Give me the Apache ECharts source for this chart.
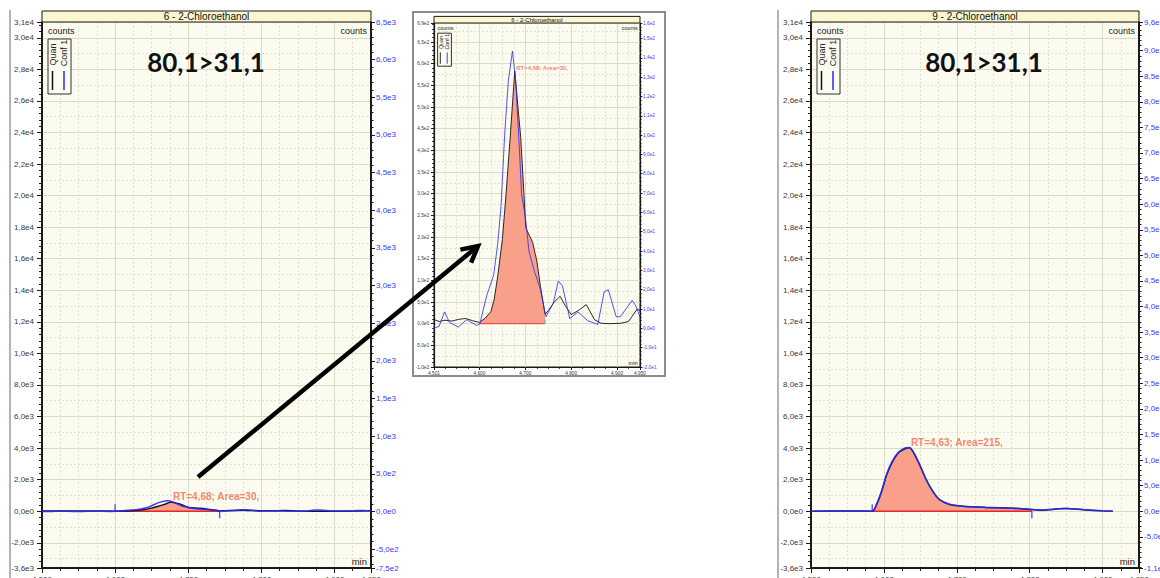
<!DOCTYPE html>
<html>
<head>
<meta charset="utf-8">
<title>2-Chloroethanol chromatograms</title>
<script src="https://cdn.jsdelivr.net/npm/echarts@6.0.0/dist/echarts.min.js"></script>
<style>
html,body{margin:0;padding:0;background:#ffffff;overflow:hidden;}
#chart{width:1160px;height:578px;}
</style>
</head>
<body>
<div id="chart"></div>
<script>
// ===== Data =====
const panel6Title = '6 - 2-Chloroethanol';
const panel9Title = '9 - 2-Chloroethanol';
const transitionText = '80,1>31,1';
const legendNames = ['Quan', 'Conf 1'];
const countsText = 'counts';
const xUnitText = 'min';
const peak6Label = 'RT=4,68; Area=30,';
const peak9Label = 'RT=4,63; Area=215,';

// Sample 6 - quantifier trace (left counts axis)
const quan6Time = [4.500,4.512,4.525,4.540,4.555,4.570,4.585,4.600,4.612,4.625,4.632,4.640,4.650,4.658,4.668,4.677,4.684,4.690,4.697,4.701,4.705,4.716,4.725,4.733,4.743,4.750,4.763,4.776,4.788,4.800,4.815,4.833,4.851,4.865,4.885,4.908,4.925,4.944,4.950];
const quan6Counts = [10,5,8,6,10,12,7,3,12,28,55,110,194,298,444,583,500,430,300,222,212,188,145,86,22,30,50,63,40,21,30,44,9,1,0,1,5,34,30];
// Sample 6 - qualifier trace "Conf 1" (right counts axis)
const conf6Time = [4.500,4.512,4.524,4.535,4.554,4.572,4.594,4.601,4.616,4.631,4.640,4.647,4.655,4.663,4.672,4.679,4.686,4.692,4.700,4.708,4.718,4.733,4.745,4.761,4.772,4.781,4.797,4.815,4.836,4.858,4.872,4.881,4.898,4.907,4.933,4.940,4.950];
const conf6Counts = [0,1,8.5,3,0.7,4.5,1.5,2.4,17,27.5,44,63,100,128,143.5,128,98,69,58,40,31,20,6,13,24.5,22,5,8.5,4,2,19,20,6,6,14.5,12,6];
const peak6Window = [4.600, 4.743];

// Sample 9 - quantifier trace
const quan9Time = [4.500,4.550,4.584,4.590,4.597,4.604,4.611,4.620,4.629,4.635,4.641,4.649,4.658,4.667,4.676,4.690,4.705,4.722,4.740,4.758,4.785,4.803,4.816,4.840,4.850,4.875,4.900,4.914];
const quan9Counts = [0,10,0,424,1270,2326,3067,3700,3954,4020,3700,2960,2009,1270,740,424,330,275,240,211,169,106,63,148,169,85,20,0];
// Sample 9 - qualifier trace
const conf9Time = [4.500,4.550,4.584,4.590,4.597,4.604,4.611,4.620,4.629,4.635,4.641,4.649,4.658,4.667,4.676,4.690,4.705,4.722,4.740,4.758,4.785,4.803,4.816,4.840,4.850,4.875,4.900,4.914];
const conf9Counts = [0,3,0,140,400,730,965,1150,1235,1245,1140,905,615,390,230,135,102,85,74,66,53,34,22,46,52,27,7,0];
const peak9Window = [4.584, 4.803];

// Tick values / labels
const timeTicks = [4.5,4.6,4.7,4.8,4.9,4.95];
const insetTimeTicks = [4.501,4.6,4.7,4.8,4.9,4.95];
const quanCountTicks = [-3600,-2000,0,2000,4000,6000,8000,10000,12000,14000,16000,18000,20000,22000,24000,26000,28000,30000,31000];
const conf6CountTicks = [-750,-500,0,500,1000,1500,2000,2500,3000,3500,4000,4500,5000,5500,6000,6500];
const conf9CountTicks = [-1110,-500,0,500,1000,1500,2000,2500,3000,3500,4000,4500,5000,5500,6000,6500,7000,7500,8000,8500,9000,9560];
const insetQuanTicks = [-100,-50,0,50,100,150,200,250,300,350,400,450,500,550,600,650,694];
const insetConfTicks = [-20,-10,0,10,20,30,40,50,60,70,80,90,100,110,120,130,140,150,158];

// ===== Styling =====
const FONT = 'Liberation Sans';
const PLOT_BG = '#fcfbef';
const TITLE_BG = '#fbf6cf';
const GRID_MAJOR = '#dddbc6';
const GRID_MINOR = '#e4e2cf';
const AXIS = '#1a1a1a';
const LABEL = '#3a3a3a';
const BLUE = '#2a2aff';
const BLUE_LABEL = '#3a3af0';
const FILL = '#f9a08b';
const RED = '#e8262a';
const RT_COLOR = '#f2674b';

const fmtSci = v => Math.abs(v) < 1e-9 ? '0,0e0' : v.toExponential(1).replace('.', ',').replace('e+', 'e');
const fmtTime = v => v.toFixed(3).replace('.', ',');
const zip = (a, b) => a.map((t, i) => [t, b[i]]);
function minorOf(min, max, step, majors) {
  const out = [];
  for (let k = Math.ceil(min / step - 1e-9); k * step <= max + 1e-9; k++) {
    const v = Math.round(k * step * 1e6) / 1e6;
    if (!majors.some(m => Math.abs(m - v) < step * 1e-3)) out.push(v);
  }
  return out;
}

const option = { animation: false, grid: [], xAxis: [], yAxis: [], series: [], graphic: [] };

function addPanel(p) {
  const s = p.s, gi = option.grid.length;
  const L = p.left, T = p.top, W = p.width, H = p.height;
  option.grid.push({ left: L, top: T, width: W, height: H, show: true, backgroundColor: PLOT_BG,
    borderColor: AXIS, borderWidth: 1, containLabel: false, outerBoundsMode: 'none' });
  const xi = option.xAxis.length, yi = option.yAxis.length;
  option.xAxis.push({
    gridIndex: gi, type: 'value', min: p.xMin, max: p.xMax, position: 'bottom',
    axisLine: { show: true, onZero: false, lineStyle: { color: AXIS, width: 2 * s } },
    axisTick: { show: true, customValues: p.xTicks, length: 5 * s, lineStyle: { color: AXIS, width: 1 } },
    axisLabel: { show: true, customValues: p.xTicks, formatter: fmtTime, fontSize: 8 * s, fontFamily: FONT, color: LABEL, margin: 7 * s },
    splitLine: { show: true, lineStyle: { color: GRID_MAJOR, width: 1 } }
  }, {
    gridIndex: gi, type: 'value', min: p.xMin, max: p.xMax, position: 'bottom',
    axisLine: { show: false, onZero: false },
    axisTick: { show: true, customValues: minorOf(p.xMin, p.xMax, 0.025, p.xTicks), length: 3 * s, lineStyle: { color: AXIS, width: 1 } },
    axisLabel: { show: false },
    splitLine: { show: true, lineStyle: { color: GRID_MINOR, width: 1, type: [2, 2] } }
  });
  option.yAxis.push({
    gridIndex: gi, type: 'value', min: p.yMin, max: p.yMax, position: 'left',
    axisLine: { show: true, onZero: false, lineStyle: { color: AXIS, width: 2 * s } },
    axisTick: { show: true, customValues: p.yTicks, length: 5 * s, lineStyle: { color: AXIS, width: 1 } },
    axisLabel: { show: true, customValues: p.yTicks, formatter: fmtSci, fontSize: 8 * s, fontFamily: FONT, color: LABEL, margin: 8 * s },
    splitLine: { show: true, lineStyle: { color: GRID_MAJOR, width: 1 } }
  }, {
    gridIndex: gi, type: 'value', min: p.yMin, max: p.yMax, position: 'left',
    axisLine: { show: false, onZero: false },
    axisTick: { show: false, customValues: minorOf(p.yMin, p.yMax, p.yGridStep, p.yTicks) },
    axisLabel: { show: false },
    splitLine: { show: true, lineStyle: { color: GRID_MINOR, width: 1, type: [2, 2] } }
  }, {
    gridIndex: gi, type: 'value', min: p.yMin, max: p.yMax, position: 'left',
    axisLine: { show: false, onZero: false },
    axisTick: { show: true, customValues: minorOf(p.yMin, p.yMax, p.yTickStep, p.yTicks), length: 3 * s, lineStyle: { color: AXIS, width: 1 } },
    axisLabel: { show: false }, splitLine: { show: false }
  }, {
    gridIndex: gi, type: 'value', min: p.y2Min, max: p.y2Max, position: 'right',
    axisLine: { show: true, onZero: false, lineStyle: { color: AXIS, width: 2 * s } },
    axisTick: { show: true, customValues: p.y2Ticks, length: 4 * s, lineStyle: { color: AXIS, width: 1 } },
    axisLabel: { show: true, customValues: p.y2Ticks, formatter: fmtSci, fontSize: 8 * s, fontFamily: FONT, color: BLUE_LABEL, margin: 5 * s },
    splitLine: { show: false }
  }, {
    gridIndex: gi, type: 'value', min: p.y2Min, max: p.y2Max, position: 'right',
    axisLine: { show: false, onZero: false },
    axisTick: { show: true, customValues: minorOf(p.y2Min, p.y2Max, p.y2TickStep, p.y2Ticks), length: 2.5 * s, lineStyle: { color: AXIS, width: 1 } },
    axisLabel: { show: false }, splitLine: { show: false }
  });

  const qPts = zip(p.quanTime, p.quanCounts);
  const cPts = zip(p.confTime, p.confCounts);
  const inWin = qPts.filter(d => d[0] >= p.win[0] - 1e-9 && d[0] <= p.win[1] + 1e-9);
  let apex = qPts[0];
  qPts.forEach(d => { if (d[1] > apex[1]) apex = d; });

  option.series.push(
    { type: 'line', xAxisIndex: xi, yAxisIndex: yi, data: inWin, symbol: 'none', smooth: p.smooth,
      lineStyle: { width: 0, opacity: 0 }, areaStyle: { color: FILL, opacity: 1 }, silent: true, z: 2 },
    { type: 'line', xAxisIndex: xi, yAxisIndex: yi, data: [[p.win[0], 0], [p.win[1], 0]], symbol: 'none',
      lineStyle: { color: RED, width: 1.5 * s }, silent: true, z: 3 },
    { type: 'line', name: legendNames[0], xAxisIndex: xi, yAxisIndex: yi, data: qPts, symbol: 'none', smooth: p.smooth,
      lineStyle: { color: '#151515', width: 1.5 * s }, silent: true, z: 4 },
    { type: 'line', name: legendNames[1], xAxisIndex: xi, yAxisIndex: yi + 3, data: cPts, symbol: 'none', smooth: p.smooth,
      lineStyle: { color: BLUE, width: 1.5 * s, opacity: 0.9 }, silent: true, z: 5 },
    { type: 'scatter', xAxisIndex: xi, yAxisIndex: yi, symbol: 'rect', symbolSize: [1.4, 7 * s], silent: true, z: 6,
      data: p.markers.map(m => ({ value: [p.win[m[0]], 0], symbolOffset: [0, m[1] * 3.5 * s], itemStyle: { color: m[2] } })) },
    { type: 'scatter', xAxisIndex: xi, yAxisIndex: yi, symbolSize: 1, itemStyle: { color: 'transparent' }, silent: true, z: 7,
      data: [apex],
      label: { show: true, formatter: p.rtLabel, position: 'right', distance: 1, offset: [0, -5.5 * s],
        color: RT_COLOR, fontSize: 10 * s, fontWeight: 'bold', fontFamily: FONT } }
  );

  const g = option.graphic;
  g.push(
    { type: 'rect', shape: { x: L, y: T - 11 * s, width: W, height: 11 * s }, style: { fill: TITLE_BG, stroke: AXIS, lineWidth: 1 }, z: 10 },
    { type: 'text', x: L + W / 2, y: T - 5.5 * s, z: 11,
      style: { text: p.title, fill: '#111', fontSize: 10 * s, fontFamily: FONT, align: 'center', verticalAlign: 'middle' } },
    { type: 'text', x: L + 6 * s, y: T + 9 * s, z: 11,
      style: { text: countsText, fill: '#222', fontSize: 9 * s, fontFamily: FONT, align: 'left', verticalAlign: 'middle' } },
    { type: 'text', x: L + W - 4 * s, y: T + 9 * s, z: 11,
      style: { text: countsText, fill: '#222', fontSize: 9 * s, fontFamily: FONT, align: 'right', verticalAlign: 'middle' } },
    { type: 'text', x: L + W - 4 * s, y: T + H - 7 * s, z: 11,
      style: { text: xUnitText, fill: '#222', fontSize: 9.5 * s, fontFamily: FONT, align: 'right', verticalAlign: 'middle' } }
  );
  const bx = L + 6 * s, by = T + 17 * s;
  g.push(
    { type: 'rect', shape: { x: bx, y: by, width: 23 * s, height: 55 * s }, style: { fill: PLOT_BG, stroke: '#333', lineWidth: 1 }, z: 11 },
    { type: 'text', x: bx + 5 * s, y: by + 15.5 * s, rotation: Math.PI / 2, z: 12,
      style: { text: legendNames[0], fill: '#222', fontSize: 9 * s, fontFamily: FONT, align: 'center', verticalAlign: 'middle' } },
    { type: 'text', x: bx + 16 * s, y: by + 14 * s, rotation: Math.PI / 2, z: 12,
      style: { text: legendNames[1], fill: '#222', fontSize: 9 * s, fontFamily: FONT, align: 'center', verticalAlign: 'middle' } },
    { type: 'line', shape: { x1: bx + 4.5 * s, y1: by + 32 * s, x2: bx + 4.5 * s, y2: by + 51 * s }, style: { stroke: '#111', lineWidth: 1.5 * s }, z: 12 },
    { type: 'line', shape: { x1: bx + 16 * s, y1: by + 32 * s, x2: bx + 16 * s, y2: by + 51 * s }, style: { stroke: BLUE, lineWidth: 1.5 * s }, z: 12 }
  );
  if (p.tx) {
    g.push({ type: 'text', x: L + p.tx, y: T + 40, z: 11,
      style: { text: transitionText, fill: '#111', fontSize: 26, fontWeight: 'bold', fontFamily: 'Lato', align: 'center', verticalAlign: 'middle' } });
  }
}

// Left panel (sample 6)
addPanel({ left: 42, top: 22, width: 329, height: 546, s: 1, title: panel6Title, tx: 164,
  xMin: 4.5, xMax: 4.95, xTicks: timeTicks,
  yMin: -3600, yMax: 31000, yTicks: quanCountTicks, yGridStep: 1000, yTickStep: 400,
  y2Min: -750, y2Max: 6500, y2Ticks: conf6CountTicks, y2TickStep: 100,
  quanTime: quan6Time, quanCounts: quan6Counts, confTime: conf6Time, confCounts: conf6Counts,
  win: peak6Window, smooth: 0.2, rtLabel: peak6Label, markers: [[0, -1, BLUE], [1, 1, BLUE]] });

// Zoomed inset (same sample 6)
addPanel({ left: 434, top: 23, width: 206, height: 344, s: 0.6, title: panel6Title, tx: 0,
  xMin: 4.501, xMax: 4.95, xTicks: insetTimeTicks,
  yMin: -100, yMax: 694, yTicks: insetQuanTicks, yGridStep: 25, yTickStep: 10,
  y2Min: -20, y2Max: 158, y2Ticks: insetConfTicks, y2TickStep: 2,
  quanTime: quan6Time, quanCounts: quan6Counts, confTime: conf6Time, confCounts: conf6Counts,
  win: peak6Window, smooth: false, rtLabel: peak6Label, markers: [[1, -1, '#22c8d8']] });

// Right panel (sample 9)
addPanel({ left: 811, top: 22, width: 328, height: 546, s: 1, title: panel9Title, tx: 173,
  xMin: 4.5, xMax: 4.95, xTicks: timeTicks,
  yMin: -3600, yMax: 31000, yTicks: quanCountTicks, yGridStep: 1000, yTickStep: 400,
  y2Min: -1110, y2Max: 9560, y2Ticks: conf9CountTicks, y2TickStep: 100,
  quanTime: quan9Time, quanCounts: quan9Counts, confTime: conf9Time, confCounts: conf9Counts,
  win: peak9Window, smooth: 0.3, rtLabel: peak9Label, markers: [[0, -1, BLUE], [1, 1, BLUE]] });

// Page decorations: screenshot frames, inset box and the pointing arrow
const arrowTail = [198, 477], arrowTip = [478, 246], arrowHead = 18;
(function () {
  const dx = arrowTip[0] - arrowTail[0], dy = arrowTip[1] - arrowTail[1];
  const len = Math.hypot(dx, dy), bx = -dx / len, by = -dy / len;
  const a = 28 * Math.PI / 180, c = Math.cos(a), sn = Math.sin(a);
  const arm1 = [arrowTip[0] + arrowHead * (bx * c - by * sn), arrowTip[1] + arrowHead * (bx * sn + by * c)];
  const arm2 = [arrowTip[0] + arrowHead * (bx * c + by * sn), arrowTip[1] + arrowHead * (-bx * sn + by * c)];
  option.graphic.push(
    { type: 'line', shape: { x1: 10, y1: 10, x2: 10, y2: 578 }, style: { stroke: '#b4b4b4', lineWidth: 2 }, z: 1 },
    { type: 'line', shape: { x1: 778, y1: 10, x2: 778, y2: 578 }, style: { stroke: '#b4b4b4', lineWidth: 2 }, z: 1 },
    { type: 'rect', shape: { x: 413, y: 12, width: 252, height: 364 }, style: { fill: 'transparent', stroke: '#8c8c8c', lineWidth: 2 }, z: 1 },
    { type: 'line', shape: { x1: arrowTail[0], y1: arrowTail[1], x2: arrowTip[0], y2: arrowTip[1] }, style: { stroke: '#000', lineWidth: 4.5, lineCap: 'butt' }, z: 100 },
    { type: 'polyline', shape: { points: [arm1, arrowTip, arm2] }, style: { stroke: '#000', lineWidth: 4.5, fill: null, lineJoin: 'miter' }, z: 100 }
  );
})();

const chart = echarts.init(document.getElementById('chart'), null, { renderer: 'svg' });
chart.setOption(option);
</script>
</body>
</html>
